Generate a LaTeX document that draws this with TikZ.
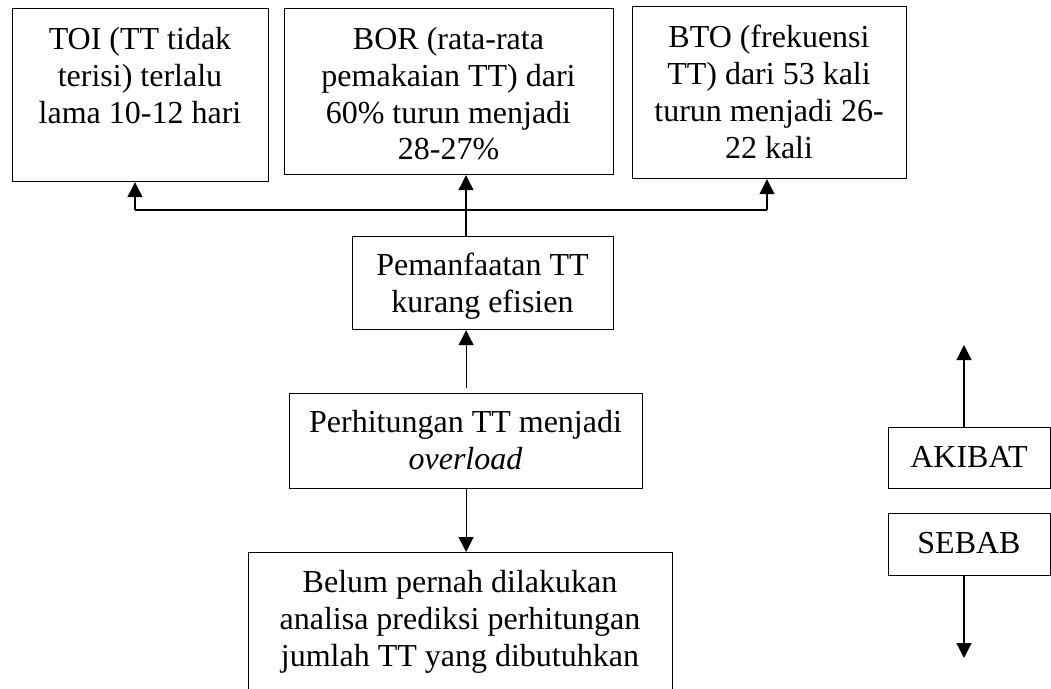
\documentclass[tikz,border=0pt]{standalone}
\usepackage{fontspec}
\setmainfont{Liberation Serif}
\usetikzlibrary{arrows.meta}
\begin{document}
\begin{tikzpicture}[x=1pt,y=-1pt,
  boxst/.style={draw,line width=1.2pt,inner sep=0pt,anchor=north west},
  txt/.style={anchor=north,align=center,inner sep=0pt,font=\fontsize{32}{36.8}\selectfont},
  arr/.style={line width=1.2pt,-{Triangle[width=15pt,length=15pt]}},
  ln/.style={line width=1.2pt}]
\useasboundingbox (0,0) rectangle (1051,688);
% boxes
\node[boxst,minimum width=256pt,minimum height=173pt] (toi) at (12,8) {};
\node[boxst,minimum width=329pt,minimum height=166pt] (bor) at (284,8) {};
\node[boxst,minimum width=274pt,minimum height=172pt] (bto) at (632,6) {};
\node[boxst,minimum width=261pt,minimum height=93pt] (pem) at (352,236) {};
\node[boxst,minimum width=353pt,minimum height=95pt] (perh) at (289,393) {};
\node[boxst,minimum width=424pt,minimum height=160pt] (belum) at (248,552) {};
\node[boxst,minimum width=162pt,minimum height=61pt] (akibat) at (888,427) {};
\node[boxst,minimum width=162pt,minimum height=62pt] (sebab) at (888,513) {};
% texts
\node[txt] (toit) at (140,27) {TOI (TT tidak\\terisi) terlalu\\lama 10-12 hari};
\node[txt] (bort) at (448.5,27) {BOR (rata-rata\\pemakaian TT) dari\\60\% turun menjadi\\28-27\%};
\node[txt] (btot) at (769,25) {BTO (frekuensi\\TT) dari 53 kali\\turun menjadi 26-\\22 kali};
\node[txt] (pemt) at (482.5,253) {Pemanfaatan TT\\kurang efisien};
\node[txt] (perht) at (465.5,410) {Perhitungan TT menjadi\\\textit{overload}};
\node[txt] (belumt) at (460,570) {Belum pernah dilakukan\\analisa prediksi perhitungan\\jumlah TT yang dibutuhkan};
\node[txt] (akibatt) at (969,446) {AKIBAT};
\node[txt] (sebabt) at (969,532) {SEBAB};
% connectors
\coordinate (j) at (466,210);
\coordinate (jl) at (135,210);
\coordinate (jr) at (767,210);
\draw[ln] (jl) -- (jr);
\draw[ln] (pem.north -| j) -- (j);
\draw[arr] (j) -- (j |- bor.south);
\draw[arr] (jl) -- (jl |- toi.south);
\draw[arr] (jr) -- (jr |- bto.south);
\draw[arr,shorten <=5pt] (perh.north) -- (perh.north |- pem.south);
\draw[arr] (perh.south) -- (perh.south |- belum.north);
\coordinate (up) at (964,345);
\coordinate (dn) at (964,658);
\draw[arr] (up |- akibat.north) -- (up);
\draw[arr] (dn |- sebab.south) -- (dn);
\end{tikzpicture}
\end{document}
